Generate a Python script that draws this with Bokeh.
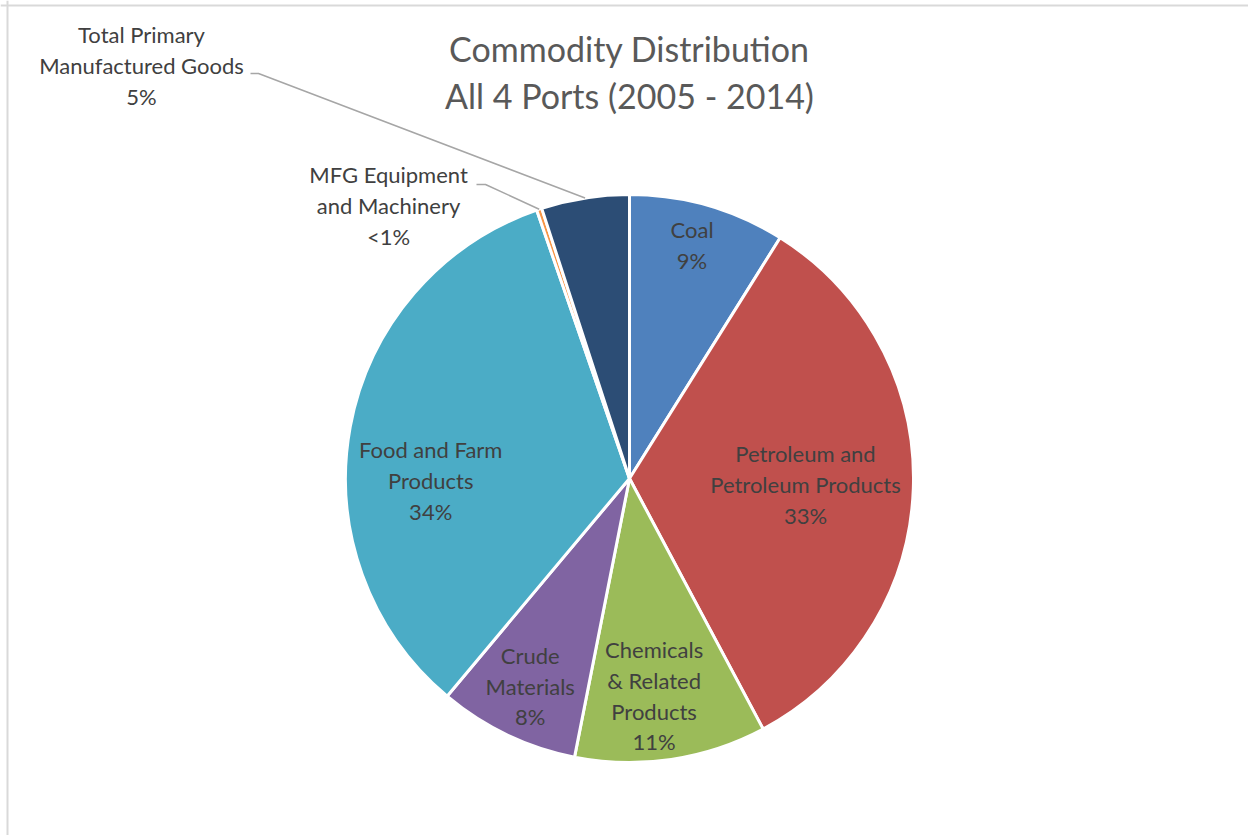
import math
from bokeh.plotting import figure
from bokeh.models import ColumnDataSource, Range1d, Span
from bokeh.core.properties import value
from bokeh.embed import file_html
from bokeh.resources import INLINE

# ---------------- data ----------------
title_lines = ["Commodity Distribution", "All 4 Ports (2005 - 2014)"]
categories = ["Coal", "Petroleum and Petroleum Products", "Chemicals & Related Products",
              "Crude Materials", "Food and Farm Products", "MFG Equipment and Machinery",
              "Total Primary Manufactured Goods"]
shares = [8.9, 33.3, 10.9, 8.0, 33.6, 0.3, 5.0]
label_texts = ["Coal\n9%", "Petroleum and\nPetroleum Products\n33%",
               "Chemicals\n& Related\nProducts\n11%", "Crude\nMaterials\n8%",
               "Food and Farm\nProducts\n34%", "MFG Equipment\nand Machinery\n<1%",
               "Total Primary\nManufactured Goods\n5%"]
colors = ["#4F81BD", "#C0504D", "#9BBB59", "#8064A2", "#4BACC6", "#F79646", "#2C4D75"]

# ---------------- layout (pixels, pie centre = origin) ----------------
W, H = 1248, 835
CX, CY = 629, 478          # pie centre on the page
R = 284
# inside labels: radial factor and angular nudge (deg, clockwise)
label_rf = [0.85, 0.62, 0.77, 0.81, 0.70, None, None]
label_nudge = [-1, 0, 2, 0, -11, 0, 0]
# outside labels: centre offsets and leader elbow
outside = {5: ((-241, 273), (-153, 294), (-144, 294)),
           6: ((-488, 413), (-379, 405), (-371, 405))}

total = sum(shares)
cum = 0.0
starts, ends, mids = [], [], []
for s in shares:
    f0 = cum / total
    cum += s
    f1 = cum / total
    starts.append(math.pi / 2 - 2 * math.pi * f1)
    ends.append(math.pi / 2 - 2 * math.pi * f0)
    mids.append((f0 + f1) / 2 * 360.0)  # clockwise from top, degrees

src = ColumnDataSource(dict(cat=categories, start=starts, end=ends, color=colors))

p = figure(width=W, height=H, output_backend="svg", toolbar_location=None,
           x_range=Range1d(-CX, W - CX), y_range=Range1d(CY - H, CY),
           min_border=0, outline_line_color=None)
p.axis.visible = False
p.xgrid.visible = False
p.ygrid.visible = False
p.background_fill_color = "white"
p.border_fill_color = "white"

# chart border (top and left edges visible in the crop)
p.add_layout(Span(location=CY - 5, dimension="width", line_color="#D9D9D9", line_width=2))
p.add_layout(Span(location=-CX + 7, dimension="height", line_color="#D9D9D9", line_width=2))

p.wedge(x=0, y=0, radius=R, start_angle="start", end_angle="end", direction="anticlock",
        fill_color="color", line_color="white", line_width=3, source=src)

# labels
lx, ly, lt = [], [], []
for i, txt in enumerate(label_texts):
    if label_rf[i] is not None:
        a = math.radians(mids[i] + label_nudge[i])
        r = label_rf[i] * R
        lx.append(r * math.sin(a))
        ly.append(r * math.cos(a))
    else:
        (ox, oy), _, _ = outside[i]
        lx.append(ox)
        ly.append(oy)
    lt.append(txt)

p.text(x=lx, y=ly, text=lt, text_align="center", text_baseline="middle",
       text_font=value("Lato"), text_font_size="22px", text_color="#404040",
       text_line_height=1.14)

# leader lines
xs, ys = [], []
for i, (_, e1, e2) in outside.items():
    a = math.radians(mids[i])
    ex, ey = R * math.sin(a), R * math.cos(a)
    xs.append([e1[0], e2[0], ex])
    ys.append([e1[1], e2[1], ey])
p.multi_line(xs=xs, ys=ys, line_color="#A6A6A6", line_width=1.5)

# title
p.text(x=[0], y=[CY - 71.5], text=["\n".join(title_lines)], text_align="center",
       text_baseline="middle", text_font=value("Lato"), text_font_size="34px",
       text_color="#595959", text_line_height=1.15)

open("out.html", "w").write(file_html(p, INLINE))
